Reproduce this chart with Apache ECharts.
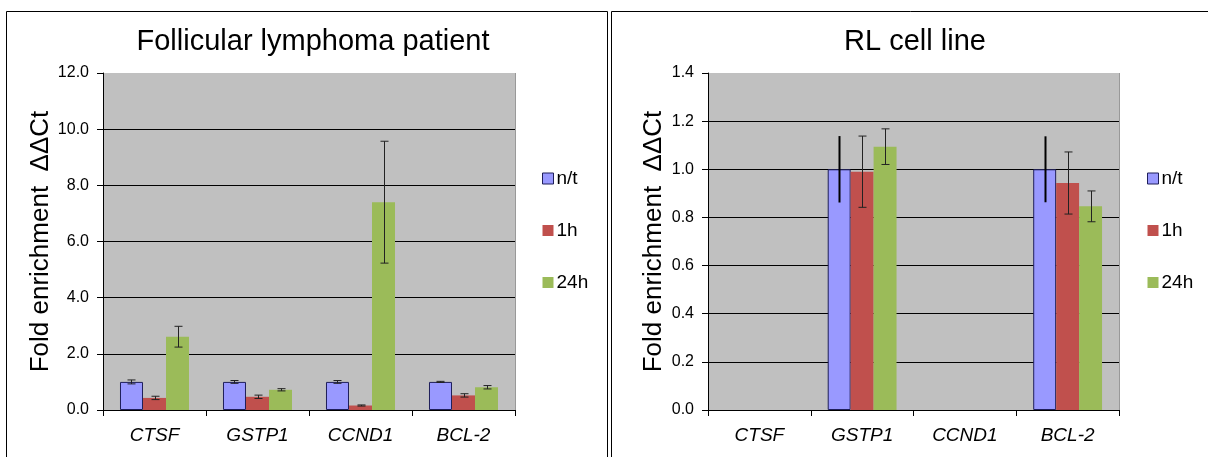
<!DOCTYPE html>
<html>
<head>
<meta charset="utf-8">
<script src="https://cdn.jsdelivr.net/npm/echarts@6/dist/echarts.min.js"></script>
<style>
html,body{margin:0;padding:0;background:#fff;}
#chart{width:1208px;height:457px;}
</style>
</head>
<body>
<div id="chart"></div>
<script>
// ---- Data ----
const categories = ['CTSF', 'GSTP1', 'CCND1', 'BCL-2'];
const seriesNames = ['n/t', '1h', '24h'];

// Follicular lymphoma patient
const flNt = [1.0, 1.0, 1.0, 1.0];
const flNtErr = [0.07, 0.05, 0.05, 0.02];
const fl1h = [0.43, 0.47, 0.16, 0.52];
const fl1hErr = [0.06, 0.06, 0.02, 0.06];
const fl24h = [2.61, 0.72, 7.40, 0.81];
const fl24hErr = [0.37, 0.04, 2.17, 0.06];

// RL cell line
const rlNt = [null, 1.0, null, 1.0];
const rlNtErr = [null, 0.138, null, 0.137];
const rl1h = [null, 0.99, null, 0.943];
const rl1hErr = [null, 0.148, null, 0.129];
const rl24h = [null, 1.094, null, 0.846];
const rl24hErr = [null, 0.074, null, 0.064];

const flTicks = {min: 0, max: 12, interval: 2};
const rlTicks = {min: 0, max: 1.4, interval: 0.2};

// ---- Styles ----
const FONT = 'Liberation Sans, Arial, sans-serif';
const colors = ['#9999FF', '#C0504D', '#9BBB59'];
const CAT_GAP = 0.33;
const BAR_FRAC = (1 - CAT_GAP) / 3;

function barSeries(name, data, idx, axis) {
  return {
    name: name,
    type: 'bar',
    xAxisIndex: axis, yAxisIndex: axis,
    data: data,
    barGap: '0%',
    barCategoryGap: (CAT_GAP * 100) + '%',
    itemStyle: idx === 0
      ? {color: colors[0], borderColor: '#1F1F5A', borderWidth: 1}
      : {color: colors[idx]},
    silent: true,
    z: 2
  };
}

function errSeries(name, vals, errs, idx, axis, style) {
  const data = [];
  vals.forEach((v, i) => {
    if (v !== null && errs[i] !== null) data.push([i, v - errs[i], v + errs[i]]);
  });
  return {
    name: name,
    type: 'custom',
    xAxisIndex: axis, yAxisIndex: axis,
    data: data,
    encode: {x: 0, y: [1, 2]},
    z: 5,
    silent: true,
    renderItem: function (params, api) {
      const c = api.value(0), lo = api.value(1), hi = api.value(2);
      const band = api.size([1, 0])[0];
      const off = (idx - 1) * band * BAR_FRAC;
      const pLo = api.coord([c, lo]);
      const pHi = api.coord([c, hi]);
      const x = Math.round(pLo[0] + off) + 0.5;
      const cap = style.cap;
      const children = [{
        type: 'line',
        shape: {x1: x, y1: pLo[1], x2: x, y2: pHi[1]},
        style: {stroke: style.color, lineWidth: style.width}
      }];
      if (cap > 0) {
        children.push({type: 'line', shape: {x1: x - cap, y1: pLo[1], x2: x + cap, y2: pLo[1]},
          style: {stroke: style.color, lineWidth: 1}});
        children.push({type: 'line', shape: {x1: x - cap, y1: pHi[1], x2: x + cap, y2: pHi[1]},
          style: {stroke: style.color, lineWidth: 1}});
      }
      return {type: 'group', children: children};
    }
  };
}

function xAxis(grid) {
  return {
    type: 'category',
    gridIndex: grid,
    data: categories,
    boundaryGap: true,
    axisLine: {show: true, lineStyle: {color: '#000', width: 1}},
    axisTick: {show: true, length: 6, alignWithLabel: false, lineStyle: {color: '#000'}},
    axisLabel: {fontFamily: FONT, fontSize: 19, fontStyle: 'italic', color: '#000', margin: 16},
    splitLine: {show: false}
  };
}

function yAxis(grid, ticks, nameGap) {
  return {
    type: 'value',
    gridIndex: grid,
    min: ticks.min, max: ticks.max, interval: ticks.interval,
    name: 'Fold enrichment  \u0394\u0394Ct',
    nameLocation: 'middle',
    nameRotate: 90,
    nameGap: nameGap,
    nameTextStyle: {fontFamily: FONT, fontSize: 26, color: '#000'},
    axisLine: {show: true, lineStyle: {color: '#000', width: 1}},
    axisTick: {show: true, length: 6, inside: false, lineStyle: {color: '#000'}},
    axisLabel: {fontFamily: FONT, fontSize: 16, color: '#000', margin: 14,
      formatter: v => v.toFixed(1)},
    splitLine: {show: true, showMinLine: false, showMaxLine: false, lineStyle: {color: '#000', width: 1}}
  };
}

function legend(left, seriesPrefix) {
  return {
    orient: 'vertical',
    left: left,
    top: 164,
    itemWidth: 11,
    itemHeight: 11,
    itemGap: 33,
    icon: 'rect',
    textStyle: {fontFamily: FONT, fontSize: 19, color: '#000', padding: [0, 0, 0, -2]},
    data: seriesNames.map((n, i) => ({
      name: seriesPrefix + n,
      itemStyle: i === 0 ? {color: colors[0], borderColor: '#1F1F5A', borderWidth: 1} : {color: colors[i]}
    })),
    formatter: n => n.replace(seriesPrefix, ''),
    selectedMode: false
  };
}

const chart = echarts.init(document.getElementById('chart'), null, {renderer: 'canvas'});
const option = {
  animation: false,
  backgroundColor: '#fff',
  title: [
    {text: 'Follicular lymphoma patient', left: 308, top: 22, textAlign: 'center',
      textStyle: {fontFamily: FONT, fontSize: 29, fontWeight: 'normal', color: '#000'}},
    {text: 'RL cell line', left: 910, top: 22, textAlign: 'center',
      textStyle: {fontFamily: FONT, fontSize: 29, fontWeight: 'normal', color: '#000'}}
  ],
  legend: [legend(537, 'a'), legend(1142, 'b')],
  grid: [
    {left: 103, top: 73, width: 412, height: 337, show: true, backgroundColor: '#C0C0C0',
      borderWidth: 0},
    {left: 708, top: 73, width: 411, height: 337, show: true, backgroundColor: '#C0C0C0',
      borderWidth: 0}
  ],
  xAxis: [xAxis(0), xAxis(1)],
  yAxis: [yAxis(0, flTicks, 41), yAxis(1, rlTicks, 41)],
  series: [
    barSeries('an/t', flNt, 0, 0),
    barSeries('a1h', fl1h, 1, 0),
    barSeries('a24h', fl24h, 2, 0),
    errSeries('e0', flNt, flNtErr, 0, 0, {color: '#222', width: 1, cap: 4}),
    errSeries('e1', fl1h, fl1hErr, 1, 0, {color: '#222', width: 1, cap: 4}),
    errSeries('e2', fl24h, fl24hErr, 2, 0, {color: '#222', width: 1, cap: 4}),
    barSeries('bn/t', rlNt, 0, 1),
    barSeries('b1h', rl1h, 1, 1),
    barSeries('b24h', rl24h, 2, 1),
    errSeries('f0', rlNt, rlNtErr, 0, 1, {color: '#000', width: 2, cap: 0}),
    errSeries('f1', rl1h, rl1hErr, 1, 1, {color: '#222', width: 1, cap: 4}),
    errSeries('f2', rl24h, rl24hErr, 2, 1, {color: '#222', width: 1, cap: 4})
  ],
  graphic: [
    {type: 'rect', shape: {x: 6.5, y: 11.5, width: 601, height: 460},
      style: {fill: null, stroke: '#000', lineWidth: 1}, silent: true, z: 100},
    {type: 'rect', shape: {x: 611.5, y: 11.5, width: 610, height: 460},
      style: {fill: null, stroke: '#000', lineWidth: 1}, silent: true, z: 100},
    {type: 'line', shape: {x1: 515.5, y1: 73, x2: 515.5, y2: 410},
      style: {stroke: '#999', lineWidth: 1}, silent: true, z: 50},
    {type: 'line', shape: {x1: 1119.5, y1: 73, x2: 1119.5, y2: 410},
      style: {stroke: '#999', lineWidth: 1}, silent: true, z: 50}
  ]
};
chart.setOption(option);
</script>
</body>
</html>
